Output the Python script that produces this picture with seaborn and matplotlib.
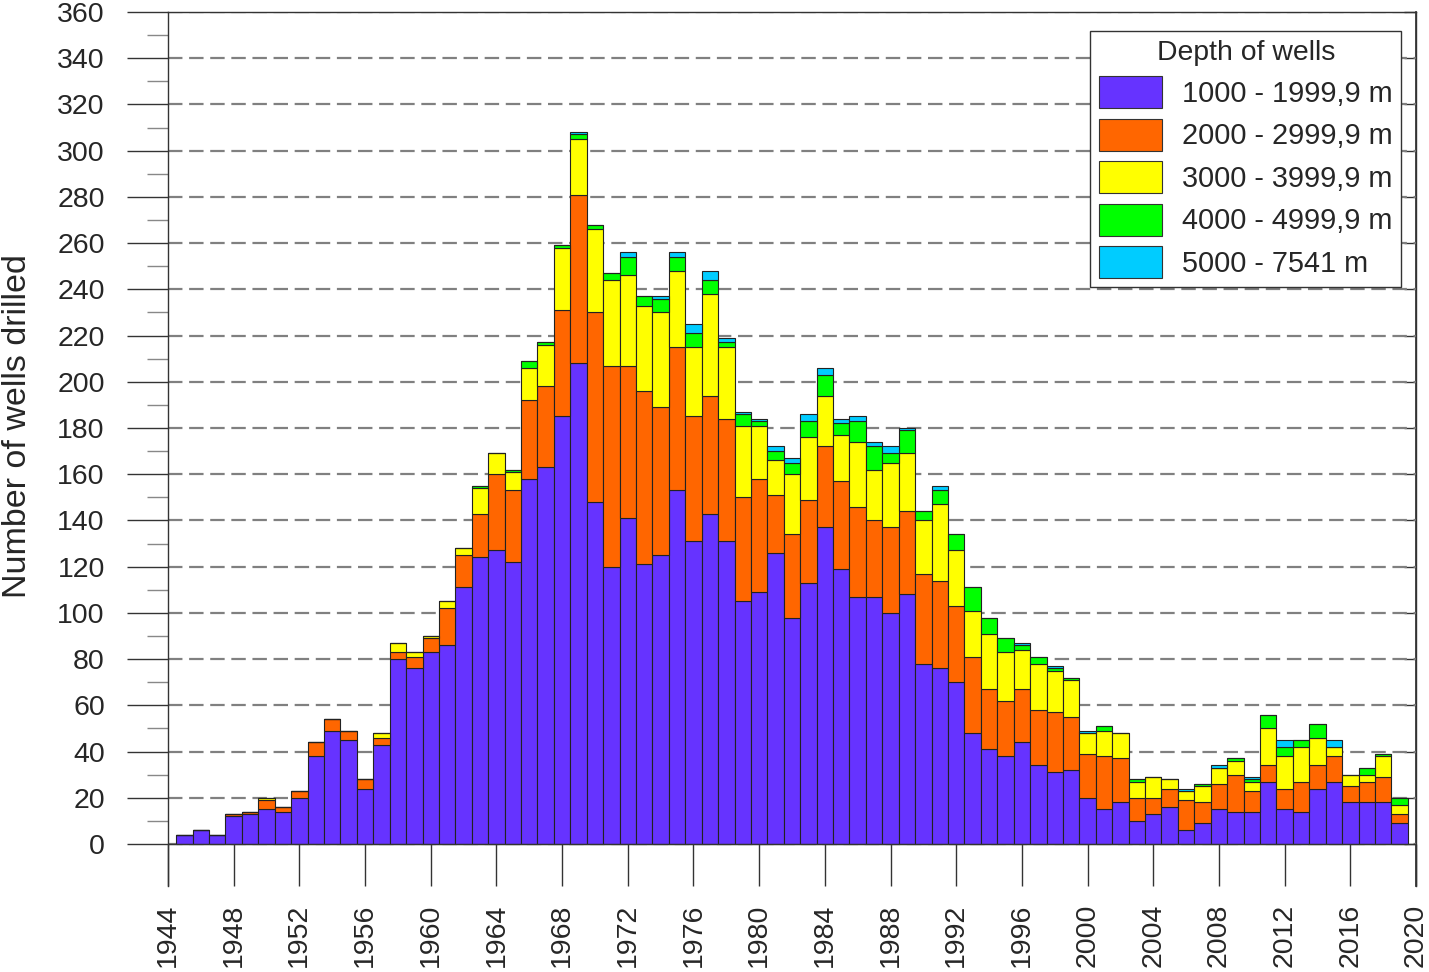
import numpy as np
import pandas as pd
import seaborn as sns
import matplotlib.pyplot as plt
from matplotlib.patches import Patch
from matplotlib.ticker import FixedLocator

years = list(range(1945, 2020))

# wells per year, by depth class
d1000 = [4, 6, 4, 12, 13, 15, 14, 20, 38, 49, 45, 24, 43, 80, 76, 83, 86, 111, 124, 127,
         122, 158, 163, 185, 208, 148, 120, 141, 121, 125, 153, 131, 143, 131, 105, 109, 126, 98, 113, 137,
         119, 107, 107, 100, 108, 78, 76, 70, 48, 41, 38, 44, 34, 31, 32, 20, 15, 18, 10, 13,
         16, 6, 9, 15, 14, 14, 27, 15, 14, 24, 27, 18, 18, 18, 9]
d2000 = [0, 0, 0, 1, 1, 4, 2, 3, 6, 5, 4, 4, 3, 3, 5, 6, 16, 14, 19, 33,
         31, 34, 35, 46, 73, 82, 87, 66, 75, 64, 62, 54, 51, 53, 45, 49, 25, 36, 36, 35,
         38, 39, 33, 37, 36, 39, 38, 33, 33, 26, 24, 23, 24, 26, 23, 19, 23, 19, 10, 7,
         8, 13, 9, 11, 16, 9, 7, 9, 13, 10, 11, 7, 9, 11, 4]
d3000 = [0, 0, 0, 0, 0, 1, 0, 0, 0, 0, 0, 0, 2, 4, 2, 1, 3, 3, 11, 9,
         8, 14, 18, 27, 24, 36, 37, 39, 37, 41, 33, 30, 44, 31, 31, 23, 15, 26, 27, 22,
         20, 28, 22, 28, 25, 23, 33, 24, 20, 24, 21, 17, 20, 18, 16, 9, 11, 11, 7, 9,
         4, 4, 7, 7, 6, 4, 16, 14, 15, 12, 4, 5, 3, 9, 4]
d4000 = [0, 0, 0, 0, 0, 0, 0, 0, 0, 0, 0, 0, 0, 0, 0, 0, 0, 0, 1, 0,
         1, 3, 1, 1, 2, 2, 3, 8, 4, 6, 6, 6, 6, 2, 5, 2, 4, 5, 7, 9,
         5, 9, 10, 4, 10, 4, 6, 7, 10, 7, 6, 2, 3, 1, 1, 0, 2, 0, 1, 0,
         0, 0, 1, 0, 1, 1, 6, 4, 3, 6, 0, 0, 3, 1, 3]
d5000 = [0, 0, 0, 0, 0, 0, 0, 0, 0, 0, 0, 0, 0, 0, 0, 0, 0, 0, 0, 0,
         0, 0, 0, 0, 1, 0, 0, 2, 0, 1, 2, 4, 4, 2, 1, 1, 2, 2, 3, 3,
         2, 2, 2, 3, 1, 0, 2, 0, 0, 0, 0, 1, 0, 1, 0, 1, 0, 0, 0, 0,
         0, 1, 0, 1, 0, 1, 0, 3, 0, 0, 3, 0, 0, 0, 0]

depth_labels = ['1000 - 1999,9 m', '2000 - 2999,9 m', '3000 - 3999,9 m',
                '4000 - 4999,9 m', '5000 - 7541 m']
colors = ['#6633ff', '#ff6600', '#ffff00', '#00ff00', '#00ccff']

df = pd.DataFrame({
    'year': years * 5,
    'depth': np.repeat(depth_labels, len(years)),
    'wells': d1000 + d2000 + d3000 + d4000 + d5000,
})

sns.set_theme(style='white')
plt.rcParams['font.family'] = ['Liberation Sans', 'DejaVu Sans']

W, H = 1429, 972
fig = plt.figure(figsize=(W / 100, H / 100), dpi=100)
ax = fig.add_axes([168 / W, 1 - 886 / H, (1416 - 168) / W, (886 - 12) / H])

# seaborn stacks the last hue level at the bottom, so reverse the order
sns.histplot(data=df, x='year', weights='wells', hue='depth',
             hue_order=depth_labels[::-1], palette=dict(zip(depth_labels, colors)),
             multiple='stack', discrete=True, shrink=1, alpha=1,
             edgecolor='#222222', linewidth=0.8, legend=False, ax=ax)

ax.set_xlim(1944, 2020)
ax.set_ylim(-18.17, 360)
ax.set_xticks(range(1944, 2021, 4))
ax.set_yticks(range(0, 361, 20))
ax.yaxis.set_minor_locator(FixedLocator(range(10, 360, 20)))

ax.grid(axis='y', which='major', color='#808080', linestyle=(0, (6.5, 3)), linewidth=1.6)
ax.set_axisbelow(True)
ax.axhline(0, color='#333333', lw=1, zorder=3)

ax.spines['bottom'].set_visible(False)
for s in ['left', 'right', 'top']:
    ax.spines[s].set_color('#333333')
    ax.spines[s].set_linewidth(1)

ax.tick_params(axis='x', bottom=True, direction='in', length=30, width=1, color='#333333',
               pad=13, labelsize=20.5, labelrotation=90)
ax.tick_params(axis='y', which='major', left=True, direction='out', length=29.5, width=1,
               color='#333333', pad=16, labelsize=20.5)
ax.tick_params(axis='y', which='minor', left=True, direction='out', length=15, width=1,
               color='#888888')

sec = ax.secondary_yaxis('right')
sec.set_yticks(range(0, 361, 20))
sec.tick_params(right=True, direction='in', length=9, width=1, color='#333333', labelright=False)
sec.spines['right'].set_color('#333333')

ax.set_xlabel('')
ax.set_ylabel('Number of wells drilled', fontsize=24.5)
ax.yaxis.set_label_coords(-0.108, 0.526)

handles = [Patch(facecolor=c, edgecolor='#333333', linewidth=0.8) for c in colors]
leg = ax.legend(handles, depth_labels, title='Depth of wells', loc='upper right',
                bbox_to_anchor=(0.988, 0.978), borderaxespad=0, fontsize=20.8,
                title_fontsize=20.4, handlelength=2.18, handleheight=1.33,
                handletextpad=0.68, labelspacing=0.36, borderpad=0.3,
                fancybox=False, framealpha=1, edgecolor='#333333')
leg.get_frame().set_linewidth(1)

fig.savefig('out.png', dpi=100)
